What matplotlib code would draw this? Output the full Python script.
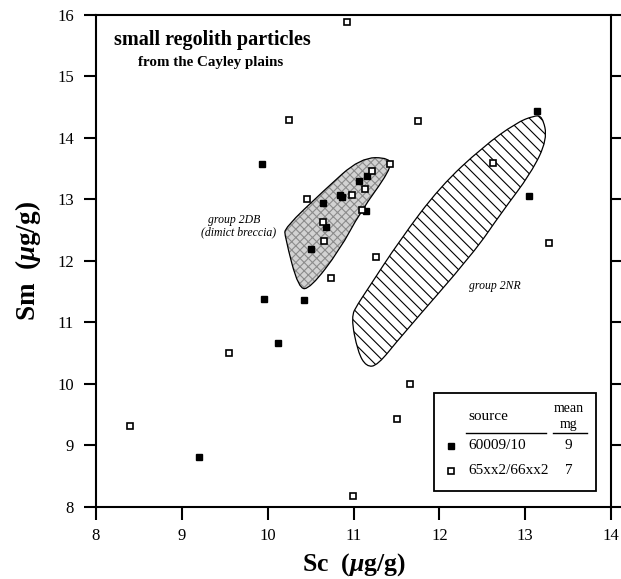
import matplotlib
matplotlib.use("Agg")
import matplotlib.pyplot as plt
from matplotlib.path import Path
from matplotlib.patches import PathPatch

plt.rcParams["font.family"] = ["Liberation Serif", "DejaVu Serif"]
plt.rcParams["mathtext.fontset"] = "custom"
plt.rcParams["mathtext.rm"] = "Liberation Serif:bold"
plt.rcParams["mathtext.it"] = "Liberation Serif:bold:italic"
plt.rcParams["hatch.linewidth"] = 0.8

# 60009/10 particles (Sc, Sm in ug/g)
sc_60009 = [9.93, 9.96, 10.42, 10.12, 9.20, 13.14, 13.05, 10.65, 10.84, 10.87,
            11.06, 11.16, 10.68, 10.51, 11.15]
sm_60009 = [13.57, 11.38, 11.37, 10.66, 8.81, 14.44, 13.06, 12.95, 13.07, 13.04,
            13.30, 13.39, 12.56, 12.20, 12.81]

# 65xx2/66xx2 particles
sc_65xx2 = [10.25, 10.46, 10.92, 11.75, 11.43, 11.22, 12.63, 13.28, 11.26, 10.74,
            10.98, 11.13, 11.10, 10.64, 10.66, 8.40, 9.55, 11.66, 11.51, 10.99]
sm_65xx2 = [14.30, 13.00, 15.89, 14.28, 13.58, 13.47, 13.60, 12.29, 12.06, 11.72,
            13.07, 13.17, 12.83, 12.64, 12.32, 9.32, 10.50, 10.00, 9.43, 8.18]

# outlines of the compositional groups (control points)
group_2db = [(11.08, 13.68), (11.43, 13.68), (11.43, 13.48), (11.08, 12.80),
             (10.84, 12.18), (10.50, 11.56), (10.36, 11.54), (10.20, 12.40),
             (10.20, 12.54), (10.65, 13.14)]
group_2nr = [(13.20, 14.36), (13.26, 13.98), (13.07, 13.43), (12.72, 12.78),
             (12.40, 12.13), (11.55, 10.77), (11.28, 10.30), (11.15, 10.28),
             (11.05, 10.52), (10.97, 11.09), (11.05, 11.30), (11.16, 11.53),
             (11.54, 12.34), (12.01, 13.21), (12.51, 13.86), (12.90, 14.25),
             (13.10, 14.36)]

legend_rows = [("60009/10", "9"), ("65xx2/66xx2", "7")]


def smooth_closed(pts):
    # closed quadratic B-spline through the midpoints of the control polygon
    n = len(pts)
    mids = [((pts[i][0] + pts[(i + 1) % n][0]) / 2,
             (pts[i][1] + pts[(i + 1) % n][1]) / 2) for i in range(n)]
    verts = [mids[-1]]
    codes = [Path.MOVETO]
    for i in range(n):
        verts += [pts[i], mids[i]]
        codes += [Path.CURVE3, Path.CURVE3]
    verts.append(mids[-1])
    codes.append(Path.CLOSEPOLY)
    return Path(verts, codes)


fig = plt.figure(figsize=(6.21, 5.79), dpi=100)
ax = fig.add_axes([0.1546, 0.1244, 0.8293, 0.8497])

p2db = smooth_closed(group_2db)
ax.add_patch(PathPatch(p2db, facecolor="#d2d2d2", edgecolor="#8c8c8c",
                       hatch="xxxx", lw=0, zorder=1))
ax.add_patch(PathPatch(p2db, facecolor="none", edgecolor="black", lw=0.9, zorder=2))

p2nr = smooth_closed(group_2nr)
ax.add_patch(PathPatch(p2nr, facecolor="white", edgecolor="black",
                       hatch="\\\\\\", lw=0.9, zorder=1))

ax.plot(sc_60009, sm_60009, "s", ms=4.4, color="black", zorder=3)
ax.plot(sc_65xx2, sm_65xx2, "s", ms=4.5, mfc="white", mec="black", mew=1.2, zorder=4)

ax.set_xlim(8, 14)
ax.set_ylim(8, 16)
ax.set_xticks(range(8, 15))
ax.set_yticks(range(8, 17))
ax.tick_params(axis="both", direction="out", length=9, width=1.5, labelsize=12)
ax.tick_params(axis="y", right=True, pad=7)
ax.tick_params(axis="x", pad=6)
for s in ax.spines.values():
    s.set_linewidth(1.5)

ax.set_xlabel(r"Sc  ($\mu$g/g)", fontsize=18.5, fontweight="bold", labelpad=5)
ax.set_ylabel(r"Sm  ($\mu$g/g)", fontsize=19.5, fontweight="bold", labelpad=10)

ax.text(9.35, 15.59, "small regolith particles", fontsize=14.5, fontweight="bold",
        ha="center", va="center")
ax.text(9.34, 15.22, "from the Cayley plains", fontsize=10.8, fontweight="bold",
        ha="center", va="center")
ax.text(9.61, 12.67, "group 2DB", fontsize=8.5, style="italic", ha="center", va="center")
ax.text(9.66, 12.47, "(dimict breccia)", fontsize=8.5, style="italic",
        ha="center", va="center")
ax.text(12.65, 11.60, "group 2NR", fontsize=8.5, style="italic", ha="center", va="center")

# source / mean mass key
T = ax.transAxes
ax.add_patch(plt.Rectangle((0.656, 0.0325), 0.315, 0.199, transform=T,
                           facecolor="white", edgecolor="black", lw=1.3, zorder=5))
ax.text(0.761, 0.1835, "source", transform=T, fontsize=11, ha="center", va="center", zorder=6)
ax.text(0.918, 0.201, "mean", transform=T, fontsize=10, ha="center", va="center", zorder=6)
ax.text(0.918, 0.167, "mg", transform=T, fontsize=10, ha="center", va="center", zorder=6)
ax.plot([0.718, 0.873], [0.150, 0.150], transform=T, color="black", lw=1, zorder=6)
ax.plot([0.887, 0.953], [0.150, 0.150], transform=T, color="black", lw=1, zorder=6)
row_y = [0.1246, 0.0732]
styles = [dict(mfc="black", mec="black", ms=4.4),
          dict(mfc="white", mec="black", mew=1.2, ms=4.5)]
for (name, mass), y, st in zip(legend_rows, row_y, styles):
    ax.plot([0.689], [y], "s", transform=T, zorder=6, **st)
    ax.text(0.724, y, name, transform=T, fontsize=11, ha="left", va="center", zorder=6)
    ax.text(0.918, y, mass, transform=T, fontsize=11, ha="center", va="center", zorder=6)

fig.savefig("out.png", dpi=100)
